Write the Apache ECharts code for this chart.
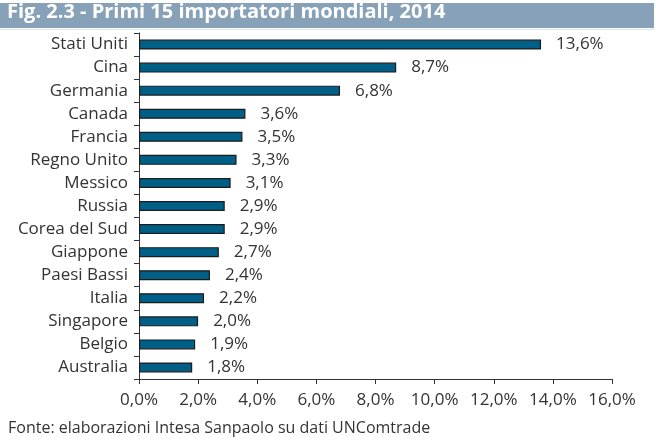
<!DOCTYPE html>
<html>
<head>
<meta charset="utf-8">
<script src="https://cdn.jsdelivr.net/npm/echarts@6/dist/echarts.min.js"></script>
<style>
  html, body { margin: 0; padding: 0; background: #fff; }
  #chart { width: 656px; height: 446px; }
</style>
</head>
<body>
<div id="chart"></div>
<script>
// dati (quota % sulle importazioni mondiali, 2014)
const countries = ['Stati Uniti', 'Cina', 'Germania', 'Canada', 'Francia', 'Regno Unito', 'Messico',
  'Russia', 'Corea del Sud', 'Giappone', 'Paesi Bassi', 'Italia', 'Singapore', 'Belgio', 'Australia']
const shares = [13.6, 8.7, 6.8, 3.6, 3.5, 3.3, 3.1, 2.9, 2.9, 2.7, 2.4, 2.2, 2.0, 1.9, 1.8]
const axisMax = 16
const axisStep = 2

const titleText = 'Fig. 2.3 - Primi 15 importatori mondiali, 2014'
const sourceText = 'Fonte: elaborazioni Intesa Sanpaolo su dati UNComtrade'

const pct = v => v.toFixed(1).replace('.', ',') + '%'
const font = '"Open Sans", "Noto Sans", sans-serif'

const chart = echarts.init(document.getElementById('chart'))
chart.setOption({
  animation: false,
  textStyle: { fontFamily: font },
  grid: {
    left: 139,
    right: 44,
    top: 33,
    bottom: 67,
  },
  graphic: [
    {
      type: 'rect',
      shape: { x: 0, y: 3, width: 654, height: 25 },
      style: { fill: '#87a2b8' },
    },
    {
      type: 'rect',
      shape: { x: 0, y: 29, width: 654, height: 1 },
      style: { fill: '#dfe6ec' },
    },
    {
      type: 'text',
      left: 7,
      top: 2,
      style: { text: titleText, fill: '#fff', font: 'bold 20px ' + font },
    },
    {
      type: 'text',
      left: 8,
      top: 420,
      style: { text: sourceText, fill: '#333', font: '16px ' + font },
    },
  ],
  xAxis: {
    type: 'value',
    min: 0,
    max: axisMax,
    interval: axisStep,
    splitLine: { show: false },
    axisLine: { show: true, lineStyle: { color: '#333', width: 1 } },
    axisTick: { show: true, length: 5, lineStyle: { color: '#333' } },
    axisLabel: {
      formatter: v => pct(v),
      color: '#333',
      fontSize: 17,
      margin: 13,
    },
  },
  yAxis: {
    type: 'category',
    inverse: true,
    data: countries,
    axisLine: { show: true, lineStyle: { color: '#333', width: 1 } },
    axisTick: { show: true, length: 5, lineStyle: { color: '#333' } },
    axisLabel: { color: '#333', fontSize: 17, margin: 11 },
  },
  series: [
    {
      type: 'bar',
      data: shares,
      barWidth: 10,
      itemStyle: {
        color: '#005f87',
        borderColor: '#1c1c1c',
        borderWidth: 1.2,
      },
      label: {
        show: true,
        position: 'right',
        distance: 15,
        color: '#333',
        fontSize: 17,
        formatter: p => pct(p.value),
      },
    },
  ],
})
</script>
</body>
</html>
